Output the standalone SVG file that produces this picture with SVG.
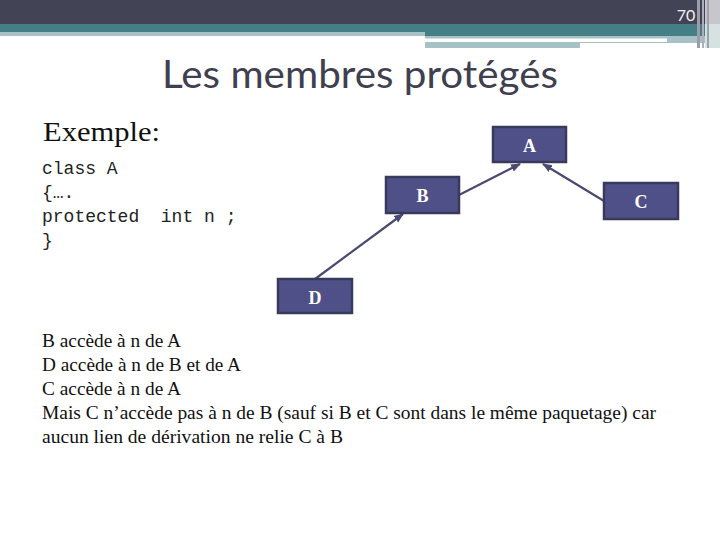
<svg xmlns="http://www.w3.org/2000/svg" width="720" height="540" viewBox="0 0 720 540">
<style>
.node rect{fill:#4f5088;stroke:#383a5c;stroke-width:2.5}
.node text{fill:#fff;font-family:"Liberation Serif",serif;font-weight:bold;font-size:18px;text-anchor:middle}
.code{font-family:"Liberation Mono",monospace;font-size:18px;fill:#222}
.body{font-family:"Liberation Serif",serif;font-size:19px;fill:#111}
.conn line{stroke:#4a4a72;stroke-width:2.2;marker-end:url(#ah)}
</style>
<defs>
<marker id="ah" viewBox="0 0 10 10" refX="9" refY="5" markerWidth="4.5" markerHeight="4.5" orient="auto" markerUnits="strokeWidth">
<path d="M0,1 L10,5 L0,9 z" fill="#4a4a72"/>
</marker>
</defs>
<rect width="720" height="540" fill="#fff"/>
<g id="header">
<rect x="0" y="0" width="720" height="24" fill="#434356"/>
<rect x="0" y="24" width="705" height="8" fill="#457f86"/>
<rect x="0" y="32" width="425" height="4" fill="#a7c1c4"/>
<rect x="425" y="32" width="280" height="4" fill="#457f86"/>
<rect x="425" y="36" width="280" height="12" fill="#a7c1c4"/>
<rect x="425" y="38.5" width="242" height="3.5" fill="#fff"/>
<rect x="580" y="43" width="125" height="5" fill="#fff"/>
<rect x="705" y="0" width="15" height="48" fill="#d6e2e2"/>
<rect x="705" y="0" width="15" height="24" fill="#c6c6cc"/>
<rect x="697" y="0" width="3" height="48" fill="#9c9cab"/>
<rect x="702" y="0" width="2" height="48" fill="#b0b0bc"/>
<rect x="707" y="0" width="2" height="48" fill="#a0a0ac"/>
<text x="686" y="21" font-family="Lato, sans-serif" font-size="16" fill="#f2f2f2" text-anchor="middle">70</text>
</g>
<text x="162" y="88" font-family="Lato, sans-serif" font-size="38" fill="#3f3f4f" textLength="396" lengthAdjust="spacingAndGlyphs">Les membres protégés</text>
<text x="43" y="141" font-family="'Liberation Serif', serif" font-size="27" fill="#111" textLength="117" lengthAdjust="spacingAndGlyphs">Exemple:</text>
<text class="code" x="42" y="174">class A</text>
<text class="code" x="42" y="198">{….</text>
<text class="code" x="42" y="222" xml:space="preserve">protected  int n ;</text>
<text class="code" x="42" y="246">}</text>
<g id="connectors" class="conn">
<line x1="459" y1="195" x2="520" y2="164"/>
<line x1="604" y1="201" x2="543" y2="164"/>
<line x1="315" y1="279" x2="403" y2="214"/>
</g>
<g id="A" class="node"><rect x="493" y="127" width="73" height="35"/><text x="529.5" y="152">A</text></g>
<g id="B" class="node"><rect x="386" y="177" width="73" height="36"/><text x="422.5" y="202">B</text></g>
<g id="C" class="node"><rect x="604" y="183" width="74" height="36"/><text x="641" y="208">C</text></g>
<g id="D" class="node"><rect x="278" y="279" width="74" height="34"/><text x="315" y="304">D</text></g>
<text class="body" x="42" y="347" textLength="139" lengthAdjust="spacingAndGlyphs">B accède à n de A</text>
<text class="body" x="42" y="371" textLength="199" lengthAdjust="spacingAndGlyphs">D accède à n de B et de A</text>
<text class="body" x="42" y="395" textLength="139" lengthAdjust="spacingAndGlyphs">C accède à n de A</text>
<text class="body" x="42" y="419" textLength="614" lengthAdjust="spacingAndGlyphs">Mais C n’accède pas à n de B (sauf si B et C sont dans le même paquetage) car</text>
<text class="body" x="42" y="443" textLength="301" lengthAdjust="spacingAndGlyphs">aucun lien de dérivation ne relie C à B</text>
</svg>
